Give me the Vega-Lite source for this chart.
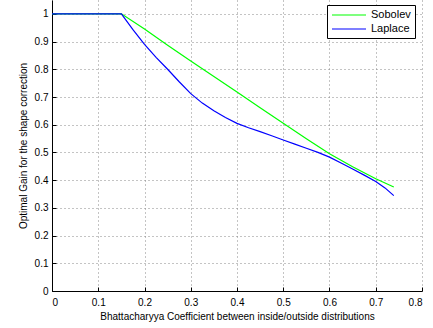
{
  "$schema": "https://vega.github.io/schema/vega-lite/v6.json",
  "autosize": {"type": "none"},
  "padding": {"left": 52, "top": 0, "right": 11, "bottom": 37},
  "width": 370,
  "height": 291,
  "background": "white",
  "config": {
    "view": {"stroke": null},
    "font": "Liberation Sans",
    "axis": {
      "labelFont": "Liberation Sans",
      "titleFont": "Liberation Sans",
      "labelFontSize": 10,
      "titleFontSize": 10,
      "titleFontWeight": "normal",
      "labelColor": "black",
      "titleColor": "black",
      "domainColor": "black",
      "domainWidth": 1,
      "tickColor": "black",
      "tickSize": -4,
      "grid": true,
      "gridColor": "#888888",
      "gridDash": [1, 3],
      "gridWidth": 1,
      "gridOpacity": 1
    }
  },
  "data": {
    "values": [
      {"x": 0, "y": 1, "method": "Sobolev"},
      {"x": 0.15, "y": 1, "method": "Sobolev"},
      {"x": 0.2, "y": 0.945, "method": "Sobolev"},
      {"x": 0.25, "y": 0.887, "method": "Sobolev"},
      {"x": 0.3, "y": 0.83, "method": "Sobolev"},
      {"x": 0.35, "y": 0.774, "method": "Sobolev"},
      {"x": 0.4, "y": 0.718, "method": "Sobolev"},
      {"x": 0.45, "y": 0.661, "method": "Sobolev"},
      {"x": 0.5, "y": 0.605, "method": "Sobolev"},
      {"x": 0.55, "y": 0.549, "method": "Sobolev"},
      {"x": 0.6, "y": 0.495, "method": "Sobolev"},
      {"x": 0.65, "y": 0.448, "method": "Sobolev"},
      {"x": 0.7, "y": 0.405, "method": "Sobolev"},
      {"x": 0.739, "y": 0.375, "method": "Sobolev"},
      {"x": 0, "y": 1, "method": "Laplace"},
      {"x": 0.15, "y": 1, "method": "Laplace"},
      {"x": 0.175, "y": 0.943, "method": "Laplace"},
      {"x": 0.2, "y": 0.89, "method": "Laplace"},
      {"x": 0.225, "y": 0.843, "method": "Laplace"},
      {"x": 0.25, "y": 0.8, "method": "Laplace"},
      {"x": 0.275, "y": 0.755, "method": "Laplace"},
      {"x": 0.3, "y": 0.712, "method": "Laplace"},
      {"x": 0.325, "y": 0.678, "method": "Laplace"},
      {"x": 0.35, "y": 0.65, "method": "Laplace"},
      {"x": 0.375, "y": 0.626, "method": "Laplace"},
      {"x": 0.4, "y": 0.605, "method": "Laplace"},
      {"x": 0.425, "y": 0.589, "method": "Laplace"},
      {"x": 0.45, "y": 0.575, "method": "Laplace"},
      {"x": 0.475, "y": 0.56, "method": "Laplace"},
      {"x": 0.5, "y": 0.545, "method": "Laplace"},
      {"x": 0.525, "y": 0.53, "method": "Laplace"},
      {"x": 0.55, "y": 0.515, "method": "Laplace"},
      {"x": 0.575, "y": 0.5, "method": "Laplace"},
      {"x": 0.6, "y": 0.483, "method": "Laplace"},
      {"x": 0.625, "y": 0.462, "method": "Laplace"},
      {"x": 0.65, "y": 0.44, "method": "Laplace"},
      {"x": 0.675, "y": 0.418, "method": "Laplace"},
      {"x": 0.7, "y": 0.395, "method": "Laplace"},
      {"x": 0.72, "y": 0.372, "method": "Laplace"},
      {"x": 0.739, "y": 0.344, "method": "Laplace"}
    ]
  },
  "mark": {"type": "line", "strokeWidth": 1.2, "interpolate": "linear"},
  "encoding": {
    "x": {
      "field": "x",
      "type": "quantitative",
      "scale": {"domain": [0, 0.8], "nice": false, "zero": false},
      "axis": {
        "title": "Bhattacharyya Coefficient between inside/outside distributions",
        "values": [0, 0.1, 0.2, 0.3, 0.4, 0.5, 0.6, 0.7, 0.8],
        "format": "~g",
        "labelPadding": 10,
        "titlePadding": 4
      }
    },
    "y": {
      "field": "y",
      "type": "quantitative",
      "scale": {"domain": [0, 1.05], "nice": false, "zero": false},
      "axis": {
        "title": "Optimal Gain for the shape correction",
        "values": [0, 0.1, 0.2, 0.3, 0.4, 0.5, 0.6, 0.7, 0.8, 0.9, 1],
        "format": "~g",
        "labelPadding": 8,
        "titlePadding": 6
      }
    },
    "color": {
      "field": "method",
      "type": "nominal",
      "sort": ["Sobolev", "Laplace"],
      "scale": {"domain": ["Sobolev", "Laplace"], "range": ["#00ff00", "#0000ff"]},
      "legend": {
        "title": null,
        "orient": "none",
        "legendX": 275,
        "legendY": 5,
        "fillColor": "white",
        "strokeColor": "black",
        "padding": 4,
        "symbolType": "M-1,0H5.8",
        "symbolSize": 100,
        "symbolStrokeWidth": 1.2,
        "labelOffset": 28,
        "labelFont": "Liberation Sans",
        "labelFontSize": 11,
        "labelColor": "black",
        "rowPadding": 3
      }
    }
  }
}
